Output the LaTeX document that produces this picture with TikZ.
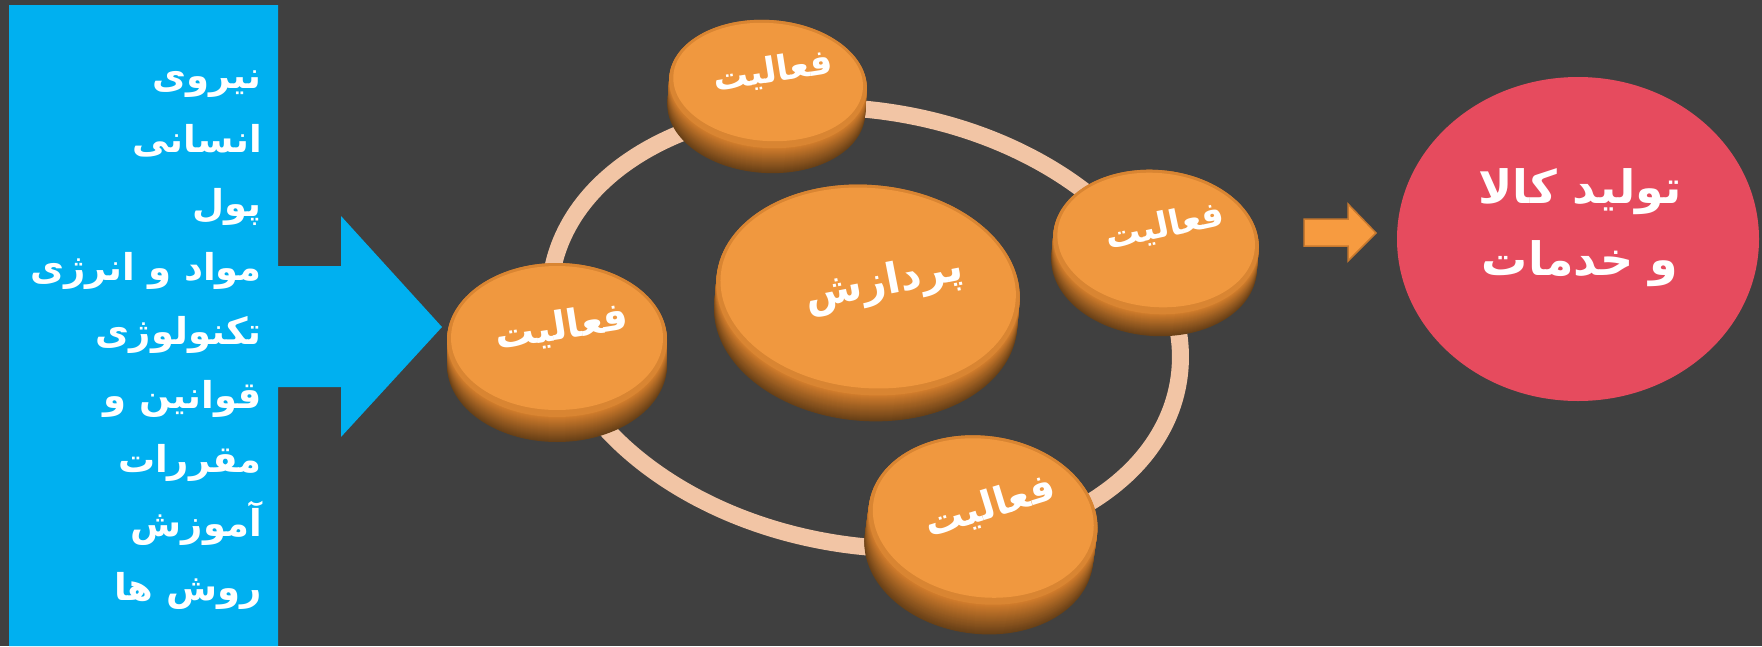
\documentclass[tikz,border=0pt]{standalone}
\usepackage{fontspec}
\newfontfamily\fa[Script=Arabic]{DejaVu Sans}
\TeXXeTstate=1
\definecolor{bgc}{HTML}{404040}
\definecolor{cyanc}{HTML}{00B0F0}
\definecolor{ringc}{HTML}{F2C5A5}
\definecolor{facec}{HTML}{F0983F}
\definecolor{facerim}{HTML}{D98532}
\definecolor{sidetop}{HTML}{D27D2C}
\definecolor{sidebot}{HTML}{684017}
\definecolor{redc}{HTML}{E64B5E}
\definecolor{arrowc}{HTML}{F79B40}
\definecolor{arrowd}{HTML}{C7782E}
\tikzset{
  ringline/.style={draw=ringc, line width=17pt},
  disklbl/.style={text=white, font=\fa\bfseries\fontsize{#1}{#1}\selectfont, inner sep=0pt},
  inputtxt/.style={text=white, font=\fa\bfseries\fontsize{37}{64}\selectfont, align=right, inner sep=0pt, anchor=north east},
  outtxt/.style={text=white, font=\fa\bfseries\fontsize{46}{72}\selectfont, align=center, inner sep=0pt},
}
\newcommand\mydisk[6]{%
  \begin{scope}[shift={(#1,#2)},rotate=#6]
    \foreach \i in {#5,...,0}{%
      \pgfmathtruncatemacro\mixv{100*\i/#5}%
      \fill[sidebot!\mixv!sidetop] (0,\i) ellipse [x radius=#3, y radius=#4];
    }
    \fill[facerim] (0,0) ellipse [x radius=#3, y radius=#4];
    \fill[facec] (0,-2) ellipse [x radius=#3-4, y radius=#4-5];
  \end{scope}}
\newcommand\disktext[6]{%
  \node[disklbl=#5, rotate=#4] (#1) at (#2,#3) {\beginR #6\endR};}
\begin{document}
\begin{tikzpicture}[x=1pt,y=-1pt]
\fill[bgc] (0,0) rectangle (1762,646);
\useasboundingbox (0,0) rectangle (1762,646);
% input callout arrow
\fill[cyanc] (9,5) -- (278,5) -- (278,266) -- (341,266) -- (341,216) -- (442,327)
  -- (341,437) -- (341,387) -- (278,387) -- (278,646) -- (9,646) -- cycle;
\node[inputtxt] (inputs) at (262,70) {%
\beginR نیروی\endR\\ \beginR انسانی\endR\\ \beginR پول\endR\\ \beginR مواد و انرژی\endR\\
\beginR تکنولوژی\endR\\ \beginR قوانین و\endR\\ \beginR مقررات\endR\\ \beginR آموزش\endR\\ \beginR روش ها\endR};
% ring
\begin{scope}[shift={(865,328)},rotate=-10]
  \draw[ringline] (0,0) ellipse [x radius=318, y radius=217];
\end{scope}
% disks
\mydisk{868}{290}{152}{105}{26}{-5}
\mydisk{557}{340}{110}{77}{25}{0}
\mydisk{768}{84}{99}{64}{25}{-4}
\mydisk{1156}{242}{103}{72}{22}{-5}
\mydisk{983}{520}{115}{84}{30}{-8}
\disktext{proc}{884}{284}{11}{42}{پردازش}
\disktext{actL}{562}{328}{9}{39}{فعالیت}
\disktext{actT}{773}{72}{9}{35}{فعالیت}
\disktext{actR}{1165}{227}{12}{35}{فعالیت}
\disktext{actB}{990}{507}{17}{39}{فعالیت}
% small arrow
\draw[fill=arrowc, draw=arrowd, line width=1.5pt] (1304,219) -- (1348,219) -- (1348,204) -- (1376,233)
  -- (1348,261) -- (1348,246) -- (1304,246) -- cycle;
% output ellipse
\fill[redc] (1578,239) ellipse [x radius=181, y radius=162];
\node[outtxt] (output) at (1580,228) {\beginR تولید کالا\endR\\ \beginR و خدمات\endR};
\end{tikzpicture}
\end{document}
